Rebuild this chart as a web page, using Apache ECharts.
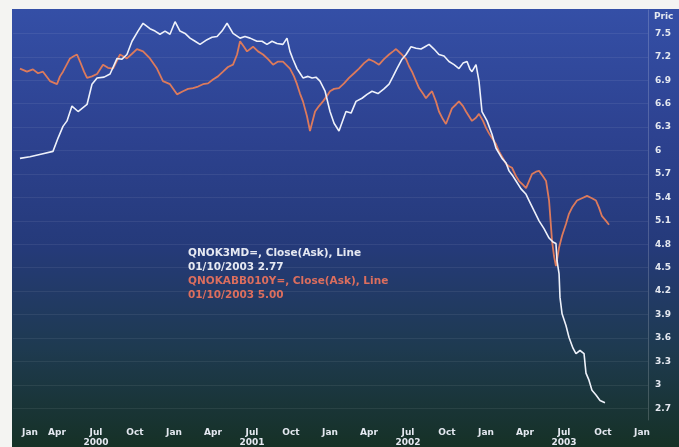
<!DOCTYPE html>
<html>
<head>
<meta charset="utf-8">
<script src="https://cdn.jsdelivr.net/npm/echarts@6/dist/echarts.min.js"></script>
<style>
html,body{margin:0;padding:0;background:#fff;}
#c{width:679px;height:447px;}
</style>
</head>
<body>
<div id="c"></div>
<script>
// x values are months since 1 Jan 2000
var monthNames = ['Jan','Apr','Jul','Oct'];
var xTicks = [0,3,6,9,12,15,18,21,24,27,30,33,36,39,42,45,48];
var yTicks = [2.7,3,3.3,3.6,3.9,4.2,4.5,4.8,5.1,5.4,5.7,6,6.3,6.6,6.9,7.2,7.5];

// QNOK3MD= (white)
var whiteMonths = [0.15,0.92,1.92,2.69,3.08,3.46,3.77,4.15,4.62,5.31,5.69,6.08,6.62,7.08,7.62,8.0,8.38,8.77,9.23,9.62,10.15,10.54,10.92,11.31,11.69,12.08,12.46,12.85,13.23,13.62,14.0,14.54,14.92,15.31,15.69,16.08,16.54,17.08,17.46,17.85,18.38,18.77,19.15,19.54,19.92,20.38,20.69,20.92,21.15,21.46,21.69,21.92,22.31,22.62,22.92,23.23,23.62,24.0,24.31,24.69,25.23,25.62,26.0,26.46,26.85,27.23,27.69,28.15,28.54,28.85,29.15,29.54,29.85,30.23,30.62,31.0,31.31,31.62,32.0,32.38,32.77,33.15,33.54,33.92,34.23,34.54,34.77,34.92,35.23,35.46,35.69,36.08,36.46,36.77,37.23,37.54,37.77,38.08,38.31,38.69,39.08,39.31,39.69,40.08,40.46,40.85,41.15,41.38,41.46,41.62,41.69,41.85,42.15,42.38,42.69,42.92,43.23,43.54,43.69,43.92,44.15,44.46,44.77,45.15];
var whiteVals = [5.90,5.92,5.96,5.99,6.16,6.31,6.38,6.57,6.50,6.59,6.85,6.93,6.94,6.98,7.18,7.17,7.23,7.40,7.53,7.63,7.56,7.53,7.49,7.53,7.49,7.65,7.53,7.50,7.44,7.40,7.36,7.42,7.45,7.46,7.53,7.63,7.50,7.44,7.46,7.44,7.40,7.40,7.36,7.40,7.37,7.36,7.44,7.27,7.17,7.05,6.99,6.93,6.95,6.93,6.94,6.89,6.76,6.50,6.35,6.25,6.50,6.48,6.63,6.67,6.72,6.76,6.73,6.79,6.85,6.95,7.05,7.17,7.23,7.33,7.31,7.30,7.33,7.36,7.30,7.23,7.21,7.14,7.10,7.05,7.12,7.14,7.04,7.01,7.10,6.89,6.50,6.38,6.21,6.03,5.90,5.84,5.74,5.67,5.61,5.51,5.44,5.36,5.23,5.10,5.00,4.88,4.83,4.81,4.59,4.42,4.12,3.91,3.76,3.61,3.47,3.40,3.44,3.40,3.15,3.06,2.93,2.87,2.80,2.77];

// QNOKABB010Y= (orange)
var orangeMonths = [0.15,0.69,1.15,1.54,1.92,2.46,3.0,3.23,3.46,4.0,4.31,4.54,4.77,5.08,5.31,5.69,6.08,6.54,6.92,7.31,7.85,8.38,8.77,9.15,9.62,10.15,10.69,11.15,11.69,12.23,12.69,13.08,13.46,13.85,14.23,14.62,15.0,15.38,15.77,16.15,16.54,16.85,17.08,17.38,17.62,18.08,18.46,18.85,19.23,19.62,20.0,20.38,20.92,21.23,21.46,21.69,21.92,22.23,22.46,22.85,23.15,23.46,23.77,24.0,24.31,24.69,25.08,25.46,25.85,26.23,26.62,27.0,27.38,27.77,28.15,28.54,28.85,29.08,29.46,29.85,30.08,30.31,30.62,30.85,31.15,31.38,31.62,31.85,32.15,32.38,32.69,32.92,33.15,33.38,33.69,33.92,34.23,34.46,34.69,34.92,35.23,35.46,35.77,36.0,36.23,36.46,36.77,37.0,37.31,37.54,37.77,38.0,38.31,38.54,38.85,39.08,39.31,39.54,39.85,40.08,40.38,40.62,40.85,41.08,41.23,41.38,41.62,41.85,42.15,42.38,42.62,43.0,43.38,43.77,44.15,44.46,44.69,44.92,45.23,45.46];
var orangeVals = [7.05,7.01,7.04,6.99,7.01,6.89,6.85,6.95,7.01,7.18,7.21,7.23,7.14,7.01,6.93,6.95,6.98,7.10,7.06,7.05,7.23,7.18,7.24,7.30,7.27,7.18,7.05,6.89,6.85,6.72,6.76,6.79,6.80,6.82,6.85,6.86,6.91,6.95,7.01,7.07,7.10,7.23,7.40,7.33,7.27,7.33,7.27,7.23,7.17,7.10,7.14,7.14,7.05,6.95,6.85,6.73,6.63,6.44,6.25,6.50,6.57,6.63,6.70,6.76,6.79,6.80,6.86,6.93,6.99,7.05,7.12,7.17,7.14,7.10,7.17,7.23,7.27,7.30,7.24,7.17,7.08,7.01,6.89,6.80,6.73,6.67,6.72,6.76,6.63,6.50,6.40,6.34,6.44,6.54,6.59,6.63,6.57,6.50,6.44,6.38,6.42,6.47,6.38,6.29,6.22,6.16,6.08,5.99,5.90,5.83,5.80,5.78,5.67,5.61,5.56,5.52,5.61,5.70,5.73,5.74,5.67,5.61,5.36,4.84,4.65,4.52,4.76,4.91,5.06,5.19,5.27,5.36,5.39,5.42,5.39,5.36,5.27,5.16,5.10,5.05];

function pairs(xs, ys){ return xs.map(function(x,i){ return [x, ys[i]]; }); }

var chart = echarts.init(document.getElementById('c'));
var labelColor = '#e4e8f0';
var option = {
  animation: false,
  backgroundColor: new echarts.graphic.LinearGradient(0,0,0,1,[
    {offset:0, color:'#3550a8'},
    {offset:0.3, color:'#2d4290'},
    {offset:0.55, color:'#253a7a'},
    {offset:0.78, color:'#1e3a50'},
    {offset:1, color:'#163126'}
  ]),
  grid: {left:13, top:10, right:31, bottom:27, show:false, containLabel:false, outerBoundsMode:'none'},
  xAxis: {
    type:'value', min:-0.385, max:48.46,
    axisLine:{show:false},
    axisTick:{show:false, customValues: xTicks},
    splitLine:{show:false},
    axisLabel:{
      customValues: xTicks,
      color: labelColor, fontSize:9, fontWeight:'bold', fontFamily:'DejaVu Sans',
      margin:8, lineHeight:10,
      formatter:function(v){
        var idx = Math.round(v/3) % 4;
        var s = monthNames[idx];
        if (v === 0) return '{first|' + s + '}';
        if (idx === 2) s += '\n' + (2000 + Math.floor(v/12));
        return s;
      },
      rich:{
        first:{color:labelColor, fontSize:9, fontWeight:'bold', fontFamily:'DejaVu Sans', padding:[0,0,0,24]}
      }
    }
  },
  yAxis: {
    type:'value', position:'right', min:2.55, max:7.8,
    axisLine:{show:true, onZero:false, lineStyle:{color:'rgba(255,255,255,0.18)'}},
    axisTick:{show:false, customValues: yTicks},
    splitLine:{show:true, lineStyle:{color:'rgba(255,255,255,0.07)', width:1}},
    axisLabel:{
      customValues: yTicks,
      color: labelColor, fontSize:9, fontWeight:'bold', fontFamily:'DejaVu Sans',
      margin:7,
      formatter:function(v){ return String(Math.round(v*10)/10); }
    }
  },
  graphic: [
    {type:'rect', shape:{x:0,y:0,width:679,height:9}, style:{fill:'#f4f4f2'}, z:100},
    {type:'rect', shape:{x:0,y:0,width:12,height:447}, style:{fill:'#f4f4f2'}, z:100},
    {type:'text', left:654, top:12, style:{text:'Pric', fill:labelColor, font:'bold 9px DejaVu Sans'}, z:100},
    {type:'text', left:188, top:248, style:{text:'QNOK3MD=, Close(Ask), Line', fill:'#e6e9f2', font:'bold 10.5px DejaVu Sans'}, z:100},
    {type:'text', left:188, top:262, style:{text:'01/10/2003 2.77', fill:'#e6e9f2', font:'bold 10.5px DejaVu Sans'}, z:100},
    {type:'text', left:188, top:276, style:{text:'QNOKABB010Y=, Close(Ask), Line', fill:'#dc6e5e', font:'bold 10.5px DejaVu Sans'}, z:100},
    {type:'text', left:188, top:290, style:{text:'01/10/2003 5.00', fill:'#dc6e5e', font:'bold 10.5px DejaVu Sans'}, z:100}
  ],
  series: [
    {type:'line', name:'QNOKABB010Y=', data: pairs(orangeMonths, orangeVals), showSymbol:false,
     lineStyle:{color:'#dc7a5c', width:1.8}, z:2},
    {type:'line', name:'QNOK3MD=', data: pairs(whiteMonths, whiteVals), showSymbol:false,
     lineStyle:{color:'#eef1fa', width:1.6}, z:3}
  ]
};
chart.setOption(option);
</script>
</body>
</html>
